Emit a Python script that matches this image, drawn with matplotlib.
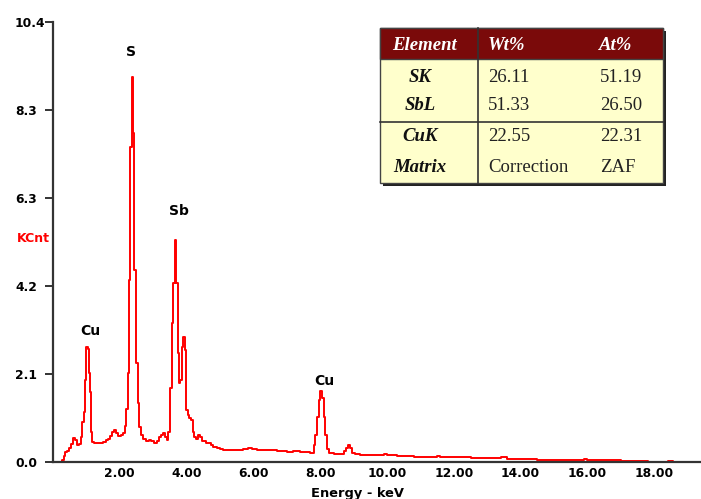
import matplotlib
matplotlib.use("Agg")
import matplotlib.pyplot as plt
from matplotlib.patches import Rectangle
from matplotlib.lines import Line2D

# -- Spectrum (energy in keV, counts in KCnt) --------------------------------
energy = [
    0.00, 0.27, 0.32, 0.36, 0.42, 0.48, 0.54, 0.60, 0.66, 0.72, 0.78, 0.84,
    0.88, 0.92, 0.96, 1.00, 1.04, 1.08, 1.11, 1.14, 1.18, 1.22, 1.30, 1.40,
    1.50, 1.58, 1.66, 1.72, 1.78, 1.84, 1.90, 1.96, 2.04, 2.10, 2.16, 2.20,
    2.24, 2.28, 2.31, 2.36, 2.39, 2.43, 2.48, 2.53, 2.58, 2.63, 2.70, 2.78,
    2.86, 2.94, 3.02, 3.10, 3.16, 3.22, 3.28, 3.34, 3.40, 3.45, 3.50, 3.55,
    3.60, 3.64, 3.68, 3.73, 3.77, 3.81, 3.85, 3.89, 3.94, 3.98, 4.03, 4.08,
    4.13, 4.18, 4.23, 4.28, 4.34, 4.40, 4.46, 4.52, 4.58, 4.66, 4.74, 4.80,
    4.90, 5.00, 5.10, 5.30, 5.50, 5.70, 5.85, 5.95, 6.10, 6.40, 6.70, 7.00,
    7.20, 7.40, 7.55, 7.70, 7.80, 7.85, 7.90, 7.95, 8.00, 8.06, 8.11, 8.15,
    8.20, 8.25, 8.40, 8.60, 8.72, 8.78, 8.84, 8.90, 8.96, 9.05, 9.20, 9.50,
    9.80, 9.90, 10.00, 10.30, 10.80, 11.40, 11.50, 11.60, 12.20, 12.40, 12.50,
    13.00, 13.40, 13.60, 14.20, 14.50, 15.00, 15.80, 15.90, 16.00, 17.00,
    17.60, 17.80, 18.30, 18.40, 18.55, 19.50, 20.00,
]
kcnt = [
    0.00, 0.05, 0.15, 0.24, 0.27, 0.33, 0.42, 0.57, 0.52, 0.40, 0.42, 0.60,
    0.95, 1.19, 1.94, 2.72, 2.66, 2.10, 1.66, 0.72, 0.48, 0.44, 0.46, 0.45,
    0.48, 0.52, 0.55, 0.62, 0.70, 0.76, 0.68, 0.62, 0.63, 0.68, 0.84, 1.25,
    2.10, 4.30, 7.45, 9.10, 7.78, 4.55, 2.33, 1.39, 0.83, 0.65, 0.55, 0.49,
    0.52, 0.50, 0.46, 0.50, 0.58, 0.64, 0.68, 0.60, 0.52, 0.71, 1.75, 3.28,
    4.23, 5.25, 4.23, 2.57, 1.86, 1.94, 2.73, 2.95, 2.65, 1.23, 1.10, 1.05,
    0.99, 0.72, 0.60, 0.54, 0.64, 0.58, 0.49, 0.50, 0.45, 0.44, 0.40, 0.36,
    0.33, 0.30, 0.29, 0.28, 0.28, 0.30, 0.32, 0.30, 0.29, 0.28, 0.26, 0.24,
    0.25, 0.23, 0.24, 0.22, 0.40, 0.64, 1.07, 1.47, 1.69, 1.51, 1.07, 0.64,
    0.30, 0.21, 0.20, 0.20, 0.26, 0.32, 0.40, 0.32, 0.22, 0.19, 0.17, 0.16,
    0.16, 0.18, 0.16, 0.15, 0.13, 0.13, 0.15, 0.12, 0.11, 0.12, 0.10,
    0.10, 0.11, 0.07, 0.06, 0.05, 0.05, 0.05, 0.07, 0.04, 0.03,
    0.03, 0.01, 0.01, 0.03, 0.01, 0.01, 0.01,
]

# peak labels: (text, keV, KCnt)
peak_names = ["S", "Sb", "Cu", "Cu"]
peak_x = [2.34, 3.77, 1.11, 8.11]
peak_y = [9.69, 5.93, 3.09, 1.91]

ytick_vals = [0.0, 2.08, 4.16, 6.24, 8.32, 10.4]
ytick_text = ["0.0", "2.1", "4.2", "6.3", "8.3", "10.4"]
xtick_vals = [2, 4, 6, 8, 10, 12, 14, 16, 18, 20]

# -- Quant table ---------------------------------------------------------------
tbl_header = ["Element", "Wt%", "At%"]
tbl_elements = ["SK", "SbL", "CuK", "Matrix"]
tbl_wt = ["26.11", "51.33", "22.55", "Correction"]
tbl_at = ["51.19", "26.50", "22.31", "ZAF"]

W, H = 701, 499
fig = plt.figure(figsize=(W / 100, H / 100), dpi=100)

# axes placed in pixels: x0=53, 0 keV..20 keV spans 668 px, y 0..10.4 spans 440 px
ax = fig.add_axes([53 / W, 37 / H, 668 / W, 440 / H])
ax.step(energy, kcnt, where="post", color="#ff0000", lw=1.4)
ax.set_xlim(0, 20)
ax.set_ylim(0, 10.4)

for s in ("top", "right"):
    ax.spines[s].set_visible(False)
for s in ("left", "bottom"):
    ax.spines[s].set_color("#333333")
    ax.spines[s].set_linewidth(1.6)

ax.set_yticks(ytick_vals)
ax.set_yticklabels(ytick_text, ha="left", fontsize=8.8, fontweight="bold")
ax.tick_params(axis="y", length=5.8, width=1.4, color="#333333", pad=21.6)
ax.set_xticks(xtick_vals)
ax.set_xticklabels([f"{v:.2f}" for v in xtick_vals], fontsize=8.8,
                   fontweight="bold")
ax.tick_params(axis="x", length=0, pad=3.5)

for name, px, py in zip(peak_names, peak_x, peak_y):
    ax.text(px, py, name, ha="center", va="center", fontsize=10,
            fontweight="bold", color="black")

fig.text(33 / W, 1 - 238 / H, "KCnt", color="#ff0000", fontsize=9,
         fontweight="bold", ha="center", va="center")
fig.text(357 / W, 1 - 487 / H, "Energy - keV", fontsize=9.4,
         fontweight="bold", ha="center", va="top")


# -- table in figure pixel coordinates -------------------------------------
def fx(x):
    return x / W


def fy(y):
    return 1 - y / H


tl, tt, tr, tb = 380, 28, 663, 183
head_b, col_div, row_div = 59, 478, 122

# shadow
fig.patches.append(Rectangle((fx(tl + 3), fy(tb + 3)), fx(tr - tl), (tb - tt) / H,
                             transform=fig.transFigure, facecolor="#222222",
                             edgecolor="none", zorder=1))
fig.patches.append(Rectangle((fx(tl), fy(tb)), fx(tr - tl), (tb - tt) / H,
                             transform=fig.transFigure, facecolor="#ffffcc",
                             edgecolor="#444444", lw=1, zorder=2))
fig.patches.append(Rectangle((fx(tl), fy(head_b)), fx(tr - tl), (head_b - tt) / H,
                             transform=fig.transFigure, facecolor="#7a0a0a",
                             edgecolor="#444444", lw=1, zorder=3))
fig.lines.append(Line2D([fx(col_div), fx(col_div)], [fy(tt), fy(tb)],
                        transform=fig.transFigure, color="#333333", lw=1.2,
                        zorder=4))
fig.lines.append(Line2D([fx(tl), fx(tr)], [fy(row_div), fy(row_div)],
                        transform=fig.transFigure, color="#333333", lw=1.2,
                        zorder=4))

serif = "Liberation Serif"
fig.text(fx(425), fy(45), tbl_header[0], family=serif, fontsize=13.5,
         fontweight="bold", style="italic", color="white", ha="center",
         va="center", zorder=5)
fig.text(fx(488), fy(45), tbl_header[1], family=serif, fontsize=13.5,
         fontweight="bold", style="italic", color="white", ha="left",
         va="center", zorder=5)
fig.text(fx(599), fy(45), tbl_header[2], family=serif, fontsize=13.5,
         fontweight="bold", style="italic", color="white", ha="left",
         va="center", zorder=5)

row_y = [77, 106, 137, 168]
for el, wt, at, ry in zip(tbl_elements, tbl_wt, tbl_at, row_y):
    fig.text(fx(420), fy(ry), el, family=serif, fontsize=13.5,
             fontweight="bold", style="italic", color="#111111",
             ha="center", va="center", zorder=5)
    fig.text(fx(488), fy(ry), wt, family=serif, fontsize=13.5,
             color="#222222", ha="left", va="center", zorder=5)
    fig.text(fx(600), fy(ry), at, family=serif, fontsize=13.5,
             color="#222222", ha="left", va="center", zorder=5)

fig.savefig("out.png", dpi=100)
